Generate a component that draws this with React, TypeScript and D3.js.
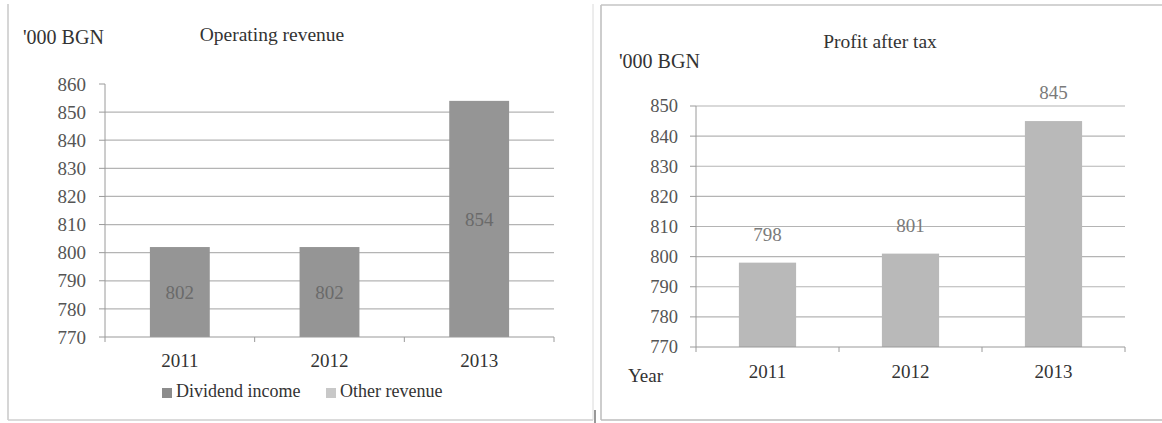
import React from "react";
import * as d3 from "d3";

// Chart data
const years = ["2011", "2012", "2013"];
const dividendIncome = [802, 802, 854];
const profitAfterTax = [798, 801, 845];
const revenueTicks = [770, 780, 790, 800, 810, 820, 830, 840, 850, 860];
const profitTicks = [770, 780, 790, 800, 810, 820, 830, 840, 850];
const legendItems = ["Dividend income", "Other revenue"];

const FONT = "'Liberation Serif', 'DejaVu Serif', serif";
const GRID = "#b4b4b4";
const AXIS = "#9a9a9a";

export default function App() {
  // Operating revenue panel scales
  const xL = d3.scaleBand<string>().domain(years).range([105, 554]).paddingInner(0.6).paddingOuter(0.3);
  const bandL = d3.scaleBand<string>().domain(years).range([105, 554]);
  const yL = d3.scaleLinear().domain([770, 860]).range([337, 84]);

  // Profit after tax panel scales
  const xR = d3.scaleBand<string>().domain(years).range([696, 1125]).paddingInner(0.6).paddingOuter(0.3);
  const bandR = d3.scaleBand<string>().domain(years).range([696, 1125]);
  const yR = d3.scaleLinear().domain([770, 850]).range([347, 106]);

  return (
    <svg
      width={1162}
      height={423}
      style={{ position: "absolute", left: 0, top: 0, background: "#fff" }}
      fontFamily={FONT}
    >
      {/* panel frames */}
      <line x1={8} y1={4} x2={8} y2={420} stroke="#c8c8c8" strokeWidth={1.5} />
      <line x1={8} y1={420} x2={593} y2={420} stroke="#cfcfcf" strokeWidth={1.5} />
      <line x1={593} y1={4} x2={593} y2={420} stroke="#dadada" strokeWidth={1} />
      <line x1={595} y1={410} x2={595} y2={423} stroke="#555" strokeWidth={1.2} />
      <line x1={601} y1={5} x2={601} y2={420} stroke="#bdbdbd" strokeWidth={1.5} />
      <line x1={601} y1={5} x2={1162} y2={5} stroke="#c4c4c4" strokeWidth={1.5} />
      <line x1={601} y1={420} x2={1162} y2={420} stroke="#bdbdbd" strokeWidth={1.5} />

      {/* ===== Operating revenue ===== */}
      <text x={23} y={44} fontSize={20} fill="#333">'000 BGN</text>
      <text x={272} y={41} fontSize={19.5} fill="#333" textAnchor="middle">Operating revenue</text>

      {revenueTicks.map((t) => (
        <g key={"lg" + t}>
          {t !== 770 && t !== 860 && (
            <line x1={105} x2={554} y1={yL(t)} y2={yL(t)} stroke={GRID} strokeWidth={1.2} />
          )}
          <line x1={99} x2={105} y1={yL(t)} y2={yL(t)} stroke={AXIS} />
          <text x={86} y={yL(t)} dy="0.35em" fontSize={19} fill="#555" textAnchor="end">{t}</text>
        </g>
      ))}
      <line x1={105} x2={105} y1={yL(860)} y2={yL(770)} stroke={AXIS} />

      {years.map((yr, i) => (
        <g key={"lb" + yr}>
          <rect
            x={xL(yr)!}
            y={yL(dividendIncome[i])}
            width={xL.bandwidth()}
            height={yL(770) - yL(dividendIncome[i])}
            fill="#959595"
          />
          <text
            x={xL(yr)! + xL.bandwidth() / 2}
            y={(yL(dividendIncome[i]) + yL(770)) / 2}
            dy="0.35em"
            fontSize={19}
            fill="#6a6a6a"
            textAnchor="middle"
          >
            {dividendIncome[i]}
          </text>
          <text x={bandL(yr)! + bandL.bandwidth() / 2} y={367} fontSize={19} fill="#333" textAnchor="middle">
            {yr}
          </text>
        </g>
      ))}
      <line x1={105} x2={554} y1={yL(770)} y2={yL(770)} stroke={AXIS} strokeWidth={1.2} />
      {[105, ...years.map((yr) => bandL(yr)! + bandL.bandwidth())].map((x) => (
        <line key={"lxt" + x} x1={x} x2={x} y1={yL(770)} y2={yL(770) + 5} stroke={AXIS} />
      ))}

      {/* legend */}
      <rect x={162} y={388} width={10} height={10} fill="#8c8c8c" />
      <text x={176} y={397} fontSize={18} fill="#333">{legendItems[0]}</text>
      <rect x={326} y={388} width={10} height={10} fill="#c8c8c8" />
      <text x={340} y={397} fontSize={18} fill="#333">{legendItems[1]}</text>

      {/* ===== Profit after tax ===== */}
      <text x={880} y={48} fontSize={19.5} fill="#333" textAnchor="middle">Profit after tax</text>
      <text x={619} y={68} fontSize={20} fill="#333">'000 BGN</text>

      {profitTicks.map((t) => (
        <g key={"rg" + t}>
          {t !== 770 && (
            <line x1={696} x2={1125} y1={yR(t)} y2={yR(t)} stroke={GRID} strokeWidth={1.2} />
          )}
          <line x1={690} x2={696} y1={yR(t)} y2={yR(t)} stroke={AXIS} />
          <text x={678} y={yR(t)} dy="0.35em" fontSize={18.5} fill="#555" textAnchor="end">{t}</text>
        </g>
      ))}
      <line x1={696} x2={696} y1={yR(850)} y2={yR(770)} stroke={AXIS} />

      {years.map((yr, i) => (
        <g key={"rb" + yr}>
          <rect
            x={xR(yr)!}
            y={yR(profitAfterTax[i])}
            width={xR.bandwidth()}
            height={yR(770) - yR(profitAfterTax[i])}
            fill="#b9b9b9"
          />
          <text
            x={xR(yr)! + xR.bandwidth() / 2}
            y={yR(profitAfterTax[i]) - 22}
            fontSize={19}
            fill="#7a7a7a"
            textAnchor="middle"
          >
            {profitAfterTax[i]}
          </text>
          <text x={bandR(yr)! + bandR.bandwidth() / 2} y={378} fontSize={19} fill="#333" textAnchor="middle">
            {yr}
          </text>
        </g>
      ))}
      <line x1={696} x2={1125} y1={yR(770)} y2={yR(770)} stroke={AXIS} strokeWidth={1.2} />
      {[696, ...years.map((yr) => bandR(yr)! + bandR.bandwidth())].map((x) => (
        <line key={"rxt" + x} x1={x} x2={x} y1={yR(770)} y2={yR(770) + 5} stroke={AXIS} />
      ))}
      <text x={628} y={382} fontSize={19} fill="#333">Year</text>
    </svg>
  );
}
